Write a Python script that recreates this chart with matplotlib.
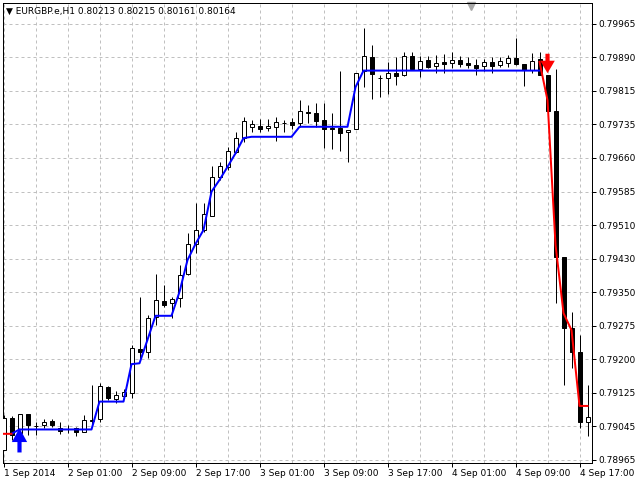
import matplotlib
matplotlib.use("Agg")
import matplotlib.pyplot as plt
from matplotlib.patches import Rectangle
import numpy as np

# EURGBP H1 candles, 1 Sep 17:00 .. 4 Sep 18:00
opens = [0.78987, 0.79060, 0.79027, 0.79070, 0.79043, 0.79044, 0.79054, 0.79037, 0.79035, 0.79037,
         0.79028, 0.79054, 0.79057, 0.79132, 0.79103, 0.79111, 0.79117, 0.79219, 0.79213, 0.79293,
         0.79329, 0.79324, 0.79335, 0.79390, 0.79460, 0.79492, 0.79525, 0.79613, 0.79637, 0.79672,
         0.79703, 0.79729, 0.79731, 0.79726, 0.79729, 0.79738, 0.79739, 0.79737, 0.79763, 0.79760,
         0.79745, 0.79726, 0.79726, 0.79717, 0.79723, 0.79856, 0.79890, 0.79841, 0.79840, 0.79852,
         0.79848, 0.79892, 0.79861, 0.79882, 0.79869, 0.79878, 0.79875, 0.79882, 0.79875, 0.79871,
         0.79868, 0.79878, 0.79870, 0.79876, 0.79888, 0.79872, 0.79859, 0.79884, 0.79848, 0.79766,
         0.79429, 0.79266, 0.79213, 0.79051]
highs = [0.79067, 0.79065, 0.79070, 0.79070, 0.79052, 0.79057, 0.79058, 0.79051, 0.79044, 0.79040,
         0.79067, 0.79136, 0.79141, 0.79134, 0.79123, 0.79127, 0.79228, 0.79339, 0.79297, 0.79392,
         0.79366, 0.79338, 0.79412, 0.79484, 0.79555, 0.79555, 0.79639, 0.79649, 0.79683, 0.79718,
         0.79751, 0.79745, 0.79746, 0.79746, 0.79752, 0.79745, 0.79749, 0.79790, 0.79779, 0.79783,
         0.79783, 0.79760, 0.79856, 0.79722, 0.79853, 0.79955, 0.79917, 0.79848, 0.79877, 0.79889,
         0.79901, 0.79901, 0.79892, 0.79892, 0.79894, 0.79896, 0.79901, 0.79892, 0.79889, 0.79884,
         0.79884, 0.79889, 0.79889, 0.79894, 0.79932, 0.79873, 0.79898, 0.79901, 0.79848, 0.79861,
         0.79429, 0.79304, 0.79251, 0.79136]
lows = [0.78987, 0.79010, 0.79026, 0.79021, 0.79021, 0.79037, 0.79040, 0.79024, 0.79026, 0.79020,
        0.79028, 0.79042, 0.79052, 0.79102, 0.79095, 0.79104, 0.79106, 0.79195, 0.79197, 0.79274,
        0.79316, 0.79290, 0.79316, 0.79389, 0.79440, 0.79488, 0.79525, 0.79607, 0.79630, 0.79668,
        0.79695, 0.79718, 0.79718, 0.79720, 0.79697, 0.79718, 0.79723, 0.79729, 0.79737, 0.79729,
        0.79680, 0.79677, 0.79673, 0.79647, 0.79723, 0.79821, 0.79793, 0.79798, 0.79804, 0.79825,
        0.79846, 0.79861, 0.79844, 0.79863, 0.79853, 0.79853, 0.79863, 0.79867, 0.79863, 0.79848,
        0.79856, 0.79853, 0.79867, 0.79867, 0.79871, 0.79823, 0.79852, 0.79848, 0.79765, 0.79324,
        0.79136, 0.79175, 0.79037, 0.79020]
closes = [0.79060, 0.79021, 0.79070, 0.79044, 0.79041, 0.79051, 0.79044, 0.79030, 0.79034, 0.79028,
          0.79055, 0.79055, 0.79134, 0.79106, 0.79113, 0.79121, 0.79220, 0.79213, 0.79289, 0.79331,
          0.79320, 0.79333, 0.79389, 0.79460, 0.79492, 0.79528, 0.79613, 0.79639, 0.79673, 0.79703,
          0.79742, 0.79735, 0.79725, 0.79730, 0.79739, 0.79737, 0.79733, 0.79765, 0.79760, 0.79743,
          0.79723, 0.79725, 0.79715, 0.79722, 0.79853, 0.79892, 0.79850, 0.79840, 0.79852, 0.79846,
          0.79892, 0.79861, 0.79881, 0.79866, 0.79876, 0.79874, 0.79882, 0.79873, 0.79870, 0.79865,
          0.79877, 0.79868, 0.79880, 0.79886, 0.79872, 0.79859, 0.79881, 0.79848, 0.79766, 0.79429,
          0.79266, 0.79213, 0.79052, 0.79062]

nan = np.nan
# trend line buffers (blue = up, red = down)
up_line = [nan, 0.79024] + [0.79034] * 10 + [0.79098] * 4 + [
    0.79184, 0.79186, 0.79240, 0.79295, 0.79295, 0.79295, 0.79350, 0.79423, 0.79460, 0.79492,
    0.79580, 0.79607, 0.79637, 0.79668, 0.79703] + [0.79706] * 6 + [0.79729] * 7 + [0.79820] + \
    [0.79858] * 23 + [nan] * 6
down_line = [0.79024, 0.79024] + [nan] * 65 + [0.79878, 0.79790, 0.79458, 0.79301, 0.79262, 0.79088, 0.79088]

# signal arrows: bar index and tip price
buy_bar, buy_price = 2, 0.79037
sell_bar, sell_price = 68, 0.79852

x_labels = ["1 Sep 2014", "2 Sep 01:00", "2 Sep 09:00", "2 Sep 17:00", "3 Sep 01:00",
            "3 Sep 09:00", "3 Sep 17:00", "4 Sep 01:00", "4 Sep 09:00", "4 Sep 17:00"]
y_labels = ["0.78965", "0.79045", "0.79125", "0.79200", "0.79275", "0.79350", "0.79430",
            "0.79510", "0.79585", "0.79660", "0.79735", "0.79815", "0.79890", "0.79965"]

px = 0.72  # one pixel in points at 100 dpi
fig = plt.figure(figsize=(6.4, 4.8), dpi=100)
ax = fig.add_axes([2.5 / 640, 17 / 480, 589.5 / 640, 460 / 480])

n = len(opens)
xs = np.arange(n)

ax.vlines(xs, lows, highs, color="black", lw=px, zorder=3)
for i in range(n):
    o, c = opens[i], closes[i]
    fc = "white" if c >= o else "black"
    ax.add_patch(Rectangle((i - 0.25, min(o, c)), 0.5, abs(c - o), facecolor=fc,
                           edgecolor="black", lw=px, zorder=4))

ax.plot(xs, up_line, color="#0000ff", lw=2 * px, zorder=5)
ax.plot(xs, down_line, color="#ff0000", lw=2 * px, zorder=5)

ax.annotate("", xy=(buy_bar, buy_price), xytext=(0, -17.5), textcoords="offset points",
            arrowprops=dict(arrowstyle="simple,head_length=10,head_width=11,tail_width=3",
                            mutation_scale=1, color="#0000ff", lw=0, shrinkA=0, shrinkB=0),
            zorder=6)
ax.annotate("", xy=(sell_bar, sell_price), xytext=(0, 14), textcoords="offset points",
            arrowprops=dict(arrowstyle="simple,head_length=9,head_width=10.5,tail_width=3",
                            mutation_scale=1, color="#ff0000", lw=0, shrinkA=0, shrinkB=0),
            zorder=6)

ax.set_xlim(-0.125, 73.56)
ax.set_ylim(0.78957, 0.800132)

ax.set_xticks(xs[::8])
ax.set_xticklabels(x_labels, ha="left")
ax.set_xticks(xs[4::8], minor=True)
ax.set_yticks(np.linspace(0.78965, 0.79965, 14))
ax.set_yticklabels(y_labels)
ax.yaxis.tick_right()
ax.tick_params(axis="both", which="major", length=3, width=px, labelsize=6.5, pad=1.5)
ax.tick_params(axis="x", which="minor", length=0)
ax.grid(True, which="both", axis="x", color="#c0c0c0", linestyle=(0, (3, 3)), lw=px)
ax.grid(True, which="major", axis="y", color="#c0c0c0", linestyle=(0, (3, 3)), lw=px)
ax.set_axisbelow(True)
for s in ax.spines.values():
    s.set_linewidth(px)

fig.text(6 / 640, 1 - 11 / 480, "\u25bc EURGBP.e,H1 0.80213 0.80215 0.80161 0.80164",
         fontsize=6.5, va="center", ha="left")
ax.plot([471 / 640], [1 - 6 / 480], marker="v", markersize=6, color="#a8a8a8",
        transform=fig.transFigure, clip_on=False)

fig.savefig("out.png", dpi=100)
